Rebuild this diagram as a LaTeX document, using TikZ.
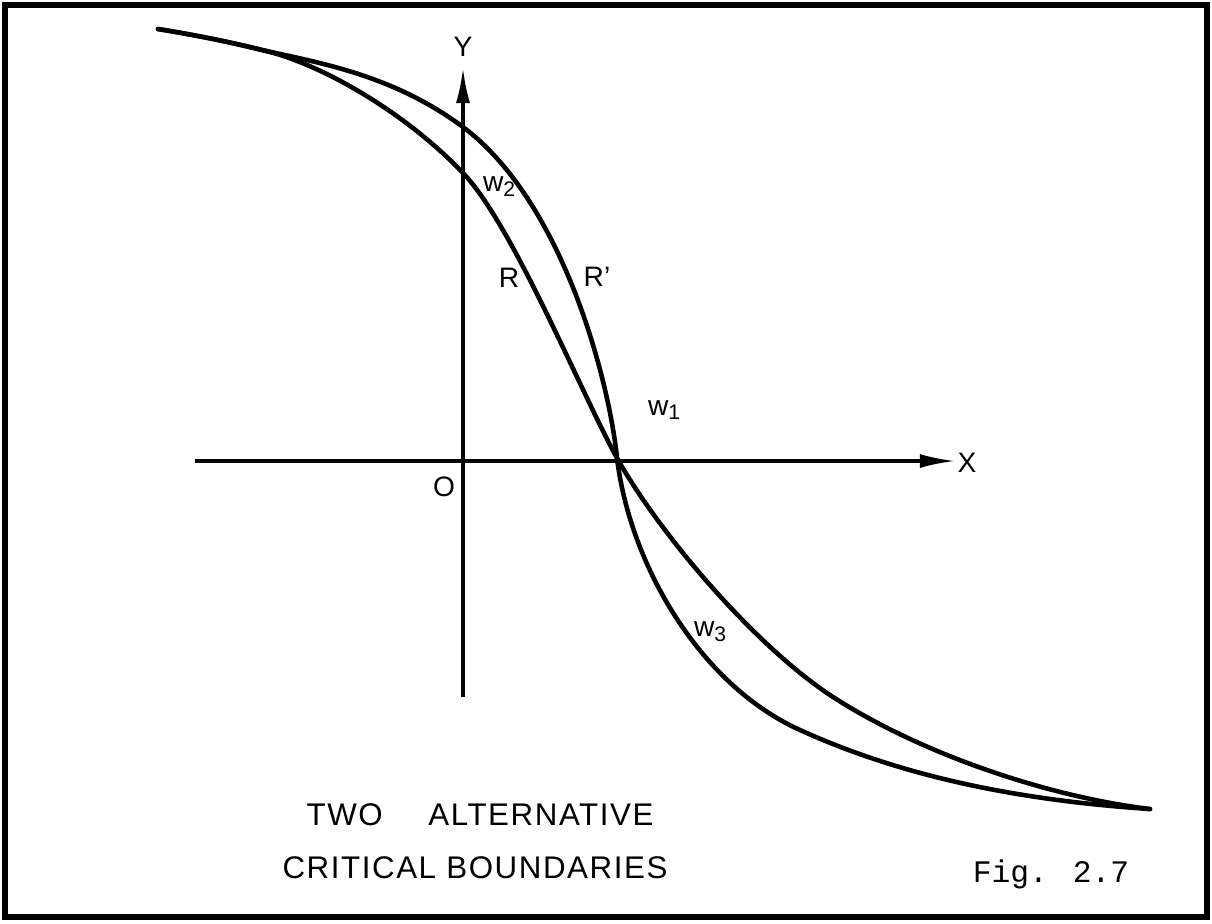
\documentclass[tikz,border=0pt]{standalone}
\usepackage{fontspec}
\setmainfont{Liberation Sans}
\newfontfamily\figfont{Liberation Mono}
\usetikzlibrary{arrows.meta}

\begin{document}
\begin{tikzpicture}[
  x=0.01cm, y=-0.01cm,
  frame/.style={line width=1.5pt},
  axis/.style={line width=0.9pt, -{Latex[length=10pt, width=4pt]}},
  curve/.style={line width=1.3pt, line cap=round, line join=round},
  lbl/.style={font=\fontsize{8}{9}\selectfont, inner sep=0pt},
  title/.style={font=\addfontfeature{LetterSpace=5}\fontsize{8.9}{11}\selectfont,
                inner sep=0pt},
  figno/.style={font=\figfont\fontsize{8.9}{10}\selectfont, inner sep=0pt},
]
\useasboundingbox (0,0) rectangle (1212,923);
\draw[frame] (5,5) rectangle (1207,917);
% Ejes
\coordinate (O)    at (463,461);
\coordinate (ybot) at (463,697);
\coordinate (ytop) at (463,68);
\coordinate (xlft) at (195,461);
\coordinate (xrgt) at (955,461);
\draw[axis] (ybot) -- (ytop);
\draw[axis] (xlft) -- (xrgt);
\node[lbl] (ylab) at (463,47)  {Y};
\node[lbl] (xlab) at (967,463) {X};
\node[lbl] (olab) at (444,487) {O};
% Fronteras R y R'
\coordinate (beg) at (158,29);
\coordinate (spl) at (262,50);
\coordinate (cut) at (617,458);
\coordinate (fin) at (1150,809);
\draw[curve] (beg) .. controls (195,35) and (230,42) .. (spl)
  .. controls (320,63) and (405,112) .. (463,173)
  .. controls (513,225) and (581,393) .. (cut)
  .. controls (657,530) and (753,645) .. (833,697)
  .. controls (923,755) and (1050,797) .. (fin);
\draw[curve] (beg) .. controls (195,35) and (230,42) .. (spl)
  .. controls (320,63) and (393,75) .. (463,127)
  .. controls (563,202) and (609,380) .. (cut)
  .. controls (630,565) and (700,685) .. (800,730)
  .. controls (910,780) and (1030,801) .. (fin);
\node[lbl] (rlab)  at (509,278) {R};
\node[lbl] (rplab) at (597,277) {R'};
\node[lbl] (w2)    at (500,187) {w\textsubscript{2}};
\node[lbl] (w1)    at (665,410) {w\textsubscript{1}};
\node[lbl] (w3)    at (711,632) {w\textsubscript{3}};
% Leyenda
\node[title] (t1) at (480,815) {TWO\hspace{13pt}ALTERNATIVE};
\node[title] (t2) at (475,868) {CRITICAL\ BOUNDARIES};
\node[figno] (fig) at (1051,874) {Fig. 2.7};
\end{tikzpicture}
\end{document}
